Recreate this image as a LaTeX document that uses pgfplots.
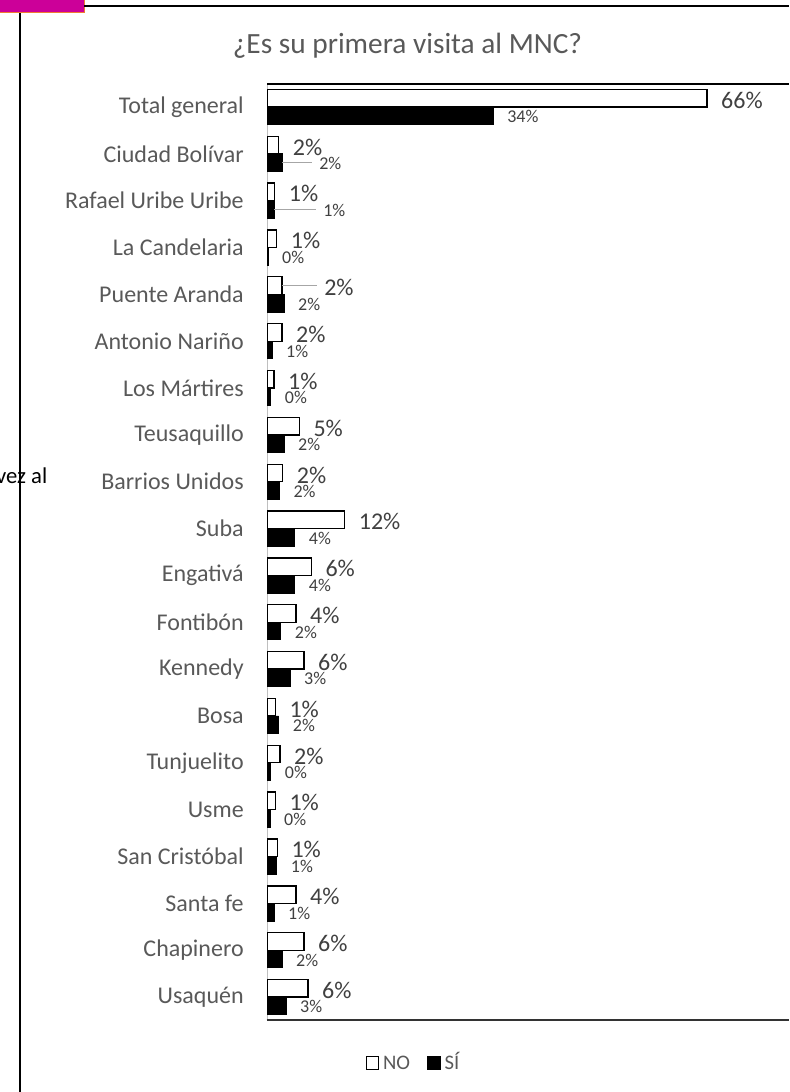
\documentclass[border=0pt]{standalone}
\usepackage{fontspec}
\setmainfont{Carlito}
\usepackage{pgfplots}
\pgfplotsset{compat=1.18}
\usepackage{pgfplotstable}

\definecolor{txt}{HTML}{595959}
\definecolor{lbl}{HTML}{404040}
\definecolor{ldr}{HTML}{A6A6A6}
\definecolor{axgray}{HTML}{BFBFBF}
\definecolor{rosa}{HTML}{CC0099}
\definecolor{naranja}{HTML}{ED7D31}

% pos: 0 = Usaquen (bottom) ... 19 = Total general (top)
% nolx/silx: where the data label starts (moved for the ones with a leader line)
\pgfplotstableread{
pos no   si   nolab silab nolx silx
19  66.0 33.9 66    34    66.0 33.9
18  1.7  2.2  2     2     1.7  5.66
17  1.1  1.0  1     1     1.1  6.26
16  1.4  0.1  1     0     1.4  0.1
15  2.2  2.5  2     2     6.41 2.5
14  2.2  0.7  2     1     2.2  0.7
13  1.0  0.5  1     0     1.0  0.5
12  4.8  2.5  5     2     4.8  2.5
11  2.3  1.8  2     2     2.3  1.8
10  11.6 4.1  12    4     11.6 4.1
9   6.6  4.1  6     4     6.6  4.1
8   4.3  2.0  4     2     4.3  2.0
7   5.5  3.4  6     3     5.5  3.4
6   1.2  1.7  1     2     1.2  1.7
5   1.9  0.5  2     0     1.9  0.5
4   1.2  0.4  1     0     1.2  0.4
3   1.5  1.4  1     1     1.5  1.4
2   4.3  1.0  4     1     4.3  1.0
1   5.5  2.2  6     2     5.5  2.2
0   6.1  2.8  6     3     6.1  2.8
}\datos

\newcommand{\legfont}{\fontsize{15.5}{17}\selectfont}

\begin{document}
\begin{tikzpicture}
\begin{scope}[x=0.75pt,y=0.75pt]
\useasboundingbox (0,0) rectangle (789,1092);
\clip (0,0) rectangle (789,1092);

% pieces of the page around the chart
\fill[rosa] (0,1079) rectangle (84,1092);
\draw[naranja, line width=0.75pt] (0,1079) -- (84,1079) -- (84,1092);
\node[anchor=base east, inner sep=0pt, font=\fontsize{17}{20}\selectfont] at (47.5,608) {vez al};
\draw[line width=1.2pt] (20,0) -- (20,1079);
\draw[line width=1.2pt] (84,1086) -- (789,1086);

\node[anchor=base, inner sep=0pt, text=txt, font=\fontsize{22}{26}\selectfont] at (407.5,1038) {¿Es su primera visita al MNC?};

% axis frame
\draw[axgray, line width=1.2pt] (267.3,72) -- (267.3,1008);
\draw[black, line width=1.2pt] (267.3,1008) -- (789,1008);
\draw[black!80, line width=1.2pt] (266.7,72) -- (789,72);
\end{scope}

\begin{axis}[
    at={(200.475pt,54pt)}, anchor=south west,
    scale only axis,
    width=391.3pt, height=702pt,
    xmin=0, xmax=78.33,
    ymin=-0.49, ymax=19.49,
    axis line style={draw=none},
    xtick=\empty,
    ytick={0,...,19},
    yticklabels={Usaquén, Chapinero, Santa fe, San Cristóbal, Usme, Tunjuelito, Bosa, Kennedy, Fontibón, Engativá, Suba, Barrios Unidos, Teusaquillo, Los Mártires, Antonio Nariño, Puente Aranda, La Candelaria, Rafael Uribe Uribe, Ciudad Bolívar, Total general},
    major tick length=0pt,
    yticklabel style={anchor=east, inner sep=0pt, xshift=-17.5pt, text=txt, font=\fontsize{18}{20}\selectfont},
    clip=false,
    legend style={at={(0.281,-0.046)}, anchor=center, draw=none, fill=none,
        legend columns=-1, text=txt,
        nodes={font=\legfont, inner sep=2pt, text height=10pt, text depth=0pt},
        /tikz/every odd column/.append style={column sep=1pt},
        /tikz/every even column/.append style={column sep=11pt}},
]
\addplot[xbar, bar width=0.3736, bar shift=0pt, fill=white, draw=black, line width=1pt,
    legend image code/.code={\draw[fill=white,draw=black,line width=0.75pt] (0pt,-4.6pt) rectangle (9.2pt,4.6pt);}]
    table[x=no, y expr=\thisrow{pos}+0.187] {\datos};
\addplot[xbar, bar width=0.3736, bar shift=0pt, fill=black, draw=black, line width=0.5pt,
    legend image code/.code={\draw[fill=black,draw=black,line width=0.75pt] (0pt,-4.6pt) rectangle (9.2pt,4.6pt);}]
    table[x=si, y expr=\thisrow{pos}-0.187] {\datos};
\legend{NO, SÍ}

% leader lines of the moved labels
\addplot[ldr, line width=0.75pt, forget plot] coordinates {(2.2,17.81) (6.7,17.81)};
\addplot[ldr, line width=0.75pt, forget plot] coordinates {(1.0,16.82) (7.3,16.82)};
\addplot[ldr, line width=0.75pt, forget plot] coordinates {(2.2,15.18) (7.46,15.18)};

% data labels
\addplot[only marks, mark=none, forget plot, point meta=explicit symbolic,
    nodes near coords={\pgfplotspointmeta\%},
    nodes near coords style={anchor=west, inner sep=0pt, xshift=10.5pt, yshift=-1.5pt, text=lbl, font=\fontsize{18}{20}\selectfont}]
    table[x=nolx, y expr=\thisrow{pos}+0.187, meta=nolab] {\datos};
\addplot[only marks, mark=none, forget plot, point meta=explicit symbolic,
    nodes near coords={\pgfplotspointmeta\%},
    nodes near coords style={anchor=west, inner sep=0pt, xshift=10.5pt, yshift=-0.75pt, text=lbl, font=\fontsize{13.5}{15}\selectfont}]
    table[x=silx, y expr=\thisrow{pos}-0.187, meta=silab] {\datos};
\end{axis}
\end{tikzpicture}
\end{document}
